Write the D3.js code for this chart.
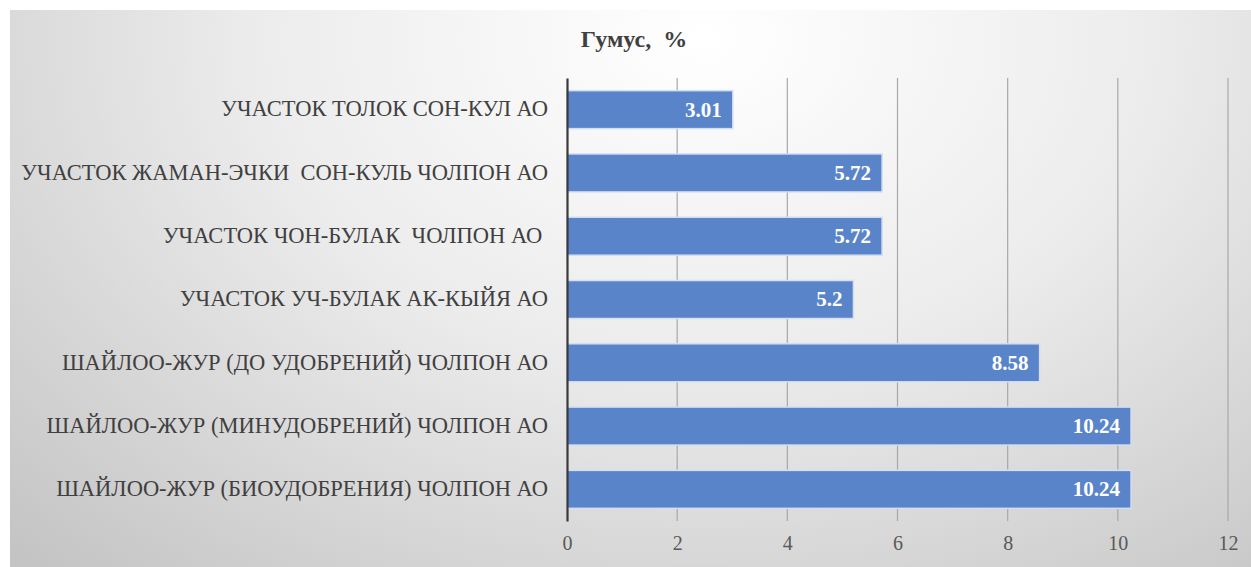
<!DOCTYPE html>
<html>
<head>
<meta charset="utf-8">
<script src="https://cdn.jsdelivr.net/npm/d3@7"></script>
<style>
  body { margin: 0; background: #fff; }
  svg { display: block; }
</style>
</head>
<body>
<div id="viz"></div>
<script>
// categories, top to bottom as in the picture
let categories = [
    'УЧАСТОК ТОЛОК СОН-КУЛ АО',
    'УЧАСТОК ЖАМАН-ЭЧКИ  СОН-КУЛЬ ЧОЛПОН АО',
    'УЧАСТОК ЧОН-БУЛАК  ЧОЛПОН АО ',
    'УЧАСТОК УЧ-БУЛАК АК-КЫЙЯ АО',
    'ШАЙЛОО-ЖУР (ДО УДОБРЕНИЙ) ЧОЛПОН АО',
    'ШАЙЛОО-ЖУР (МИНУДОБРЕНИЙ) ЧОЛПОН АО',
    'ШАЙЛОО-ЖУР (БИОУДОБРЕНИЯ) ЧОЛПОН АО'
];
let values = [3.01, 5.72, 5.72, 5.2, 8.58, 10.24, 10.24];
let valueLabels = ['3.01', '5.72', '5.72', '5.2', '8.58', '10.24', '10.24'];
let tickValues = [0, 2, 4, 6, 8, 10, 12];
let title = 'Гумус,  %';

let dimensions = {
    width: 1251,
    height: 567,
    margins: { top: 78, right: 23, bottom: 46, left: 567 }
};
dimensions.boundedWidth = dimensions.width - dimensions.margins.left - dimensions.margins.right;
dimensions.boundedHeight = dimensions.height - dimensions.margins.top - dimensions.margins.bottom;

const font = "'Liberation Serif'";

const svg = d3.select('#viz').append('svg')
    .attr('width', dimensions.width)
    .attr('height', dimensions.height);

// background gradient, light at top middle, gray at corners
const grad = svg.append('defs').append('radialGradient')
    .attr('id', 'bg')
    .attr('cx', '0.56').attr('cy', '0.05')
    .attr('r', '0.8')
    .attr('gradientTransform', 'translate(0.56,0.05) scale(1,1.6) translate(-0.56,-0.05)');
grad.append('stop').attr('offset', '0%').attr('stop-color', '#ffffff');
grad.append('stop').attr('offset', '45%').attr('stop-color', '#ececec');
grad.append('stop').attr('offset', '100%').attr('stop-color', '#c4c4c4');

svg.append('rect')
    .attr('x', 10).attr('y', 10)
    .attr('width', dimensions.width - 10)
    .attr('height', dimensions.height - 10)
    .attr('fill', 'url(#bg)');

svg.append('text')
    .attr('x', 634).attr('y', 47)
    .attr('text-anchor', 'middle')
    .style('font-family', font)
    .style('font-size', '24px')
    .style('font-weight', 'bold')
    .style('white-space', 'pre')
    .attr('fill', '#404040')
    .text(title);

const bounds = svg.append('g')
    .attr('transform', `translate(${dimensions.margins.left},${dimensions.margins.top})`);

// scales
const xScale = d3.scaleLinear()
    .domain([0, 12])
    .range([0, 661]);

const yScale = d3.scaleBand()
    .domain(categories)
    .range([0, dimensions.boundedHeight])
    .paddingInner(0.40)
    .paddingOuter(0.2);

// gridlines
bounds.append('g')
    .selectAll('line')
    .data(tickValues.slice(1))
    .join('line')
        .attr('x1', d => xScale(d)).attr('x2', d => xScale(d))
        .attr('y1', 0).attr('y2', dimensions.boundedHeight)
        .attr('stroke', '#a8a8a8')
        .attr('stroke-width', 1.2);

// x tick labels
const xAxis = d3.axisBottom(xScale)
    .tickValues(tickValues)
    .tickSize(0)
    .tickPadding(15);

const xg = bounds.append('g')
    .attr('transform', `translate(0,${dimensions.boundedHeight})`)
    .call(xAxis);
xg.select('.domain').remove();
xg.selectAll('text')
    .style('font-family', font)
    .style('font-size', '20px')
    .attr('fill', '#595959');

// bars
bounds.append('g')
    .selectAll('rect')
    .data(values)
    .join('rect')
        .attr('x', 0)
        .attr('y', (d, i) => yScale(categories[i]))
        .attr('width', d => xScale(d))
        .attr('height', yScale.bandwidth())
        .attr('fill', '#5a84ca')
        .attr('stroke', '#d3def0')
        .attr('stroke-width', 1.5);

// value labels
bounds.append('g')
    .selectAll('text')
    .data(values)
    .join('text')
        .attr('x', d => xScale(d) - 11)
        .attr('y', (d, i) => yScale(categories[i]) + yScale.bandwidth() / 2)
        .attr('dy', '0.33em')
        .attr('text-anchor', 'end')
        .style('font-family', font)
        .style('font-size', '21px')
        .style('font-weight', 'bold')
        .attr('fill', '#ffffff')
        .text((d, i) => valueLabels[i]);

// category axis
const yAxis = d3.axisLeft(yScale)
    .tickSize(0)
    .tickPadding(19);

const yg = bounds.append('g').call(yAxis);
yg.select('.domain')
    .attr('stroke', '#3a3a3a')
    .attr('stroke-width', 2.2);
yg.selectAll('text')
    .attr('dy', '0.3em')
    .style('font-family', font)
    .style('font-size', '22.5px')
    .style('white-space', 'pre')
    .attr('fill', '#404040');
</script>
</body>
</html>
